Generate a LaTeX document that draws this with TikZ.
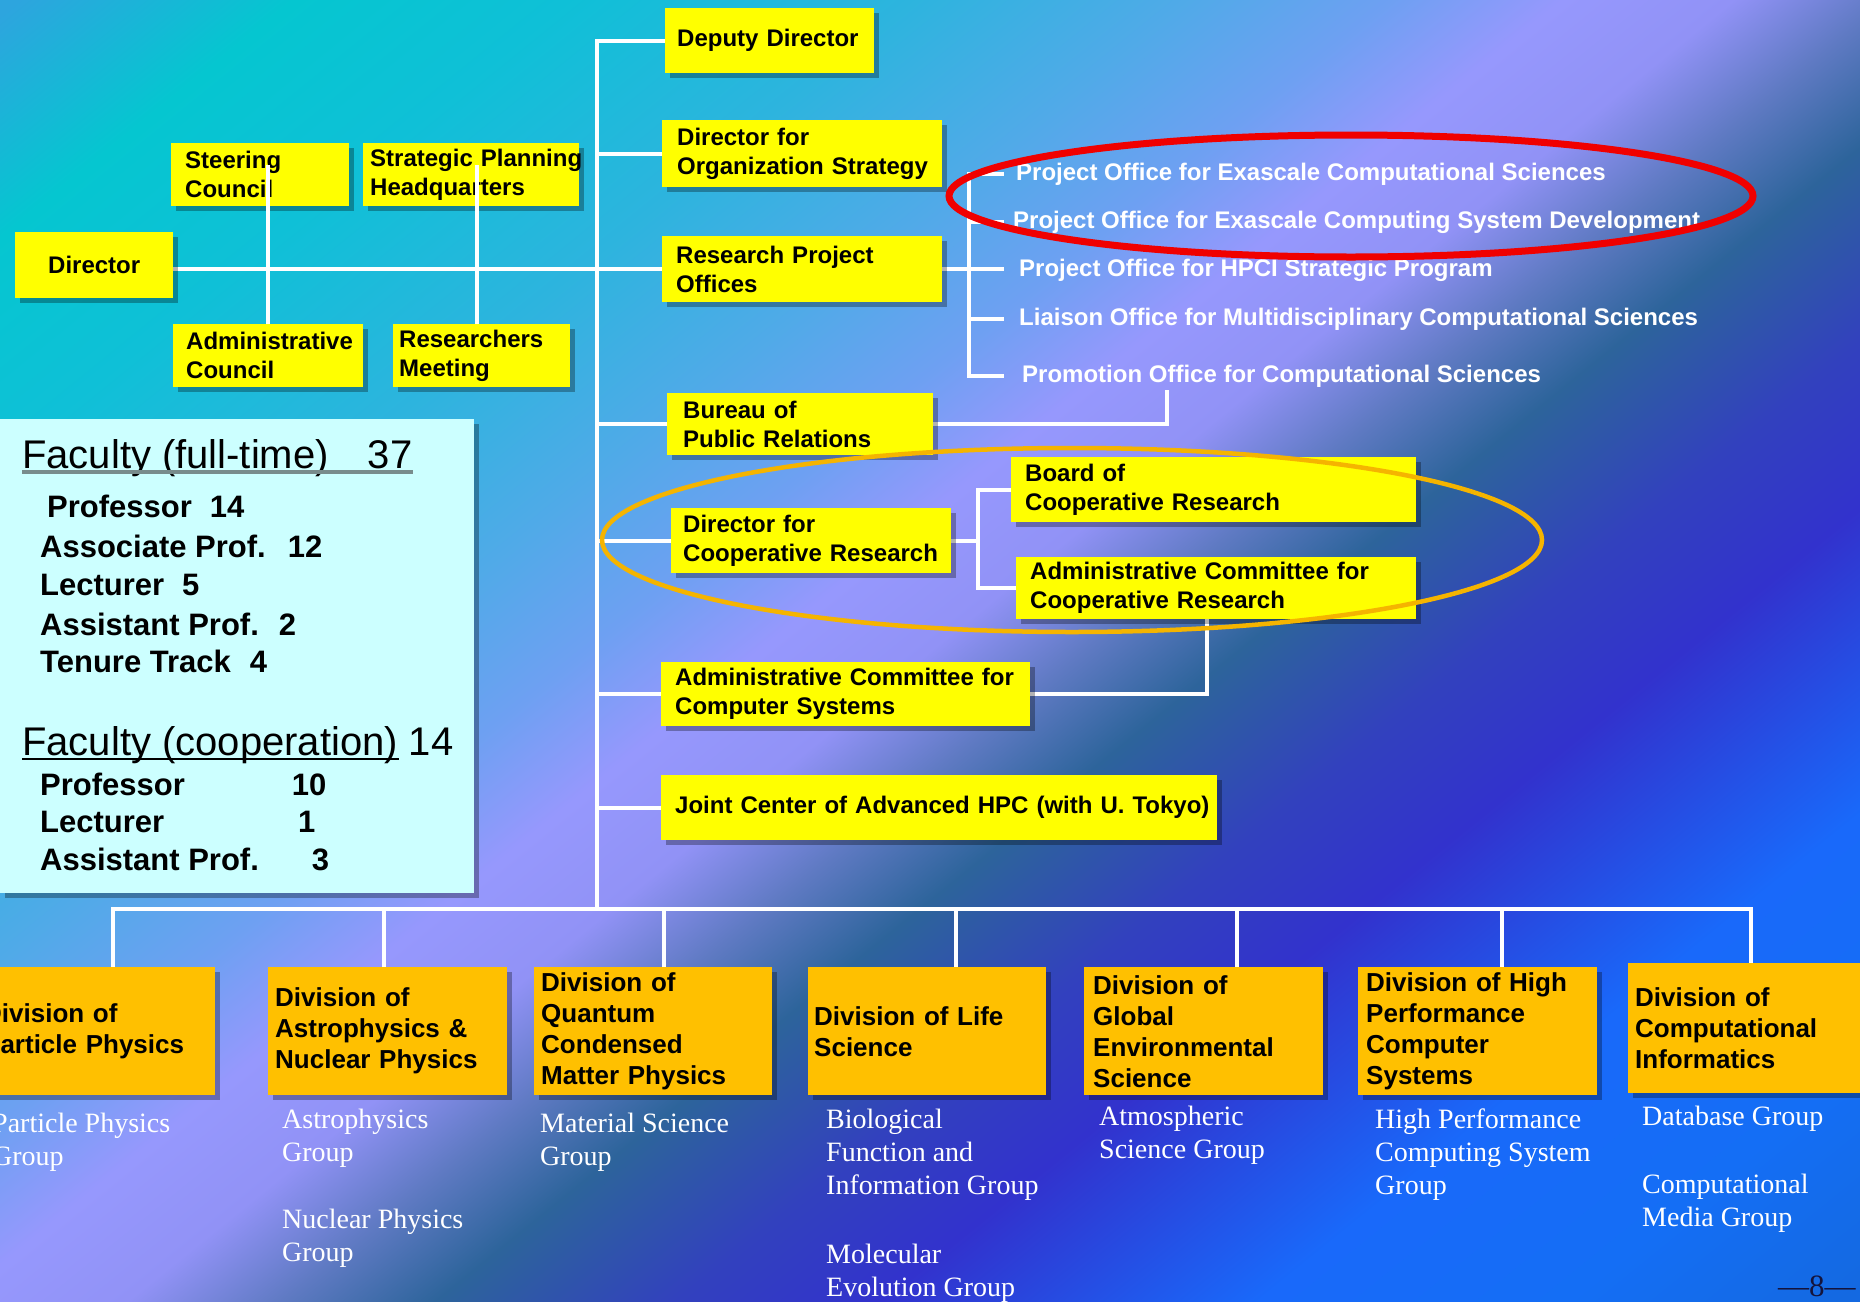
\documentclass[tikz,border=0pt]{standalone}
\usepackage{fontspec}
\setmainfont{Liberation Sans}
\newfontfamily\grpfont{Liberation Serif}
\usetikzlibrary{shadows,calc}
\hyphenpenalty=10000
\exhyphenpenalty=10000
\pgfdeclarelayer{backlayer}
\pgfdeclarelayer{connlayer}
\pgfsetlayers{backlayer,connlayer,main}
\definecolor{boxyellow}{RGB}{255,255,0}
\definecolor{divorange}{RGB}{255,192,0}
\definecolor{facbg}{RGB}{204,255,255}
\definecolor{ringred}{RGB}{240,0,0}
\definecolor{ringorange}{RGB}{245,180,0}
\definecolor{pagenum}{RGB}{20,20,60}
\definecolor{ulgray}{RGB}{120,140,140}
\definecolor{bgc0}{RGB}{45,165,222}
\definecolor{bgc1}{RGB}{5,198,208}
\definecolor{bgc2}{RGB}{15,192,215}
\definecolor{bgc3}{RGB}{45,180,222}
\definecolor{bgc4}{RGB}{80,170,232}
\definecolor{bgc5}{RGB}{110,160,242}
\definecolor{bgc6}{RGB}{150,152,253}
\definecolor{bgc7}{RGB}{145,146,246}
\definecolor{bgc8}{RGB}{95,122,195}
\definecolor{bgc9}{RGB}{45,100,155}
\definecolor{bgc10}{RGB}{50,65,190}
\definecolor{bgc11}{RGB}{50,50,205}
\definecolor{bgc12}{RGB}{25,105,250}
\definecolor{bgc13}{RGB}{20,110,245}
\definecolor{bgc14}{RGB}{20,105,225}
\pgfdeclarehorizontalshading{bgshade}{100bp}{%
  color(0bp)=(bgc0); color(26.34bp)=(bgc0); color(30.13bp)=(bgc1);
  color(33.91bp)=(bgc2); color(38.64bp)=(bgc3); color(42.43bp)=(bgc4);
  color(45.27bp)=(bgc5); color(47.63bp)=(bgc6); color(50.0bp)=(bgc7);
  color(52.13bp)=(bgc8); color(54.26bp)=(bgc9); color(57.57bp)=(bgc10);
  color(60.41bp)=(bgc11); color(65.62bp)=(bgc12); color(69.87bp)=(bgc13);
  color(73.66bp)=(bgc14); color(100bp)=(bgc14)}
\tikzset{
  conn/.style={draw=white, line width=4pt, line cap=rect, line join=miter},
  boxshadow/.style={drop shadow={shadow xshift=5pt, shadow yshift=-5pt, opacity=0.3, fill=black}},
  ybox/.style={fill=boxyellow, anchor=north west, align=left, inner ysep=0pt, boxshadow,
     font=\fontsize{24}{29}\bfseries\selectfont},
  dbox/.style={fill=divorange, anchor=north west, align=left, inner ysep=0pt, boxshadow,
     font=\fontsize{26}{31}\bfseries\selectfont},
  office/.style={anchor=base west, inner sep=0pt, text=white, font=\fontsize{24}{29}\bfseries\selectfont},
  grp/.style={anchor=north west, inner sep=0pt, align=left, text=white, font=\grpfont\fontsize{28}{33}\selectfont},
  fachead/.style={anchor=base west, inner sep=0pt, font=\fontsize{40}{48}\selectfont},
  facitem/.style={anchor=base west, inner sep=0pt, font=\fontsize{31}{37}\bfseries\selectfont},
  ring/.style={line width=7pt}
}
\begin{document}
\begin{tikzpicture}[x=1pt, y=-1pt]
\useasboundingbox (0,0) rectangle (1860,1301);
\clip (0,0) rectangle (1860,1301);
\begin{pgfonlayer}{backlayer}
\fill[bgc7] (0,0) rectangle (1860,1301);
\begin{scope}[transform canvas={rotate around={-51:(930,650.5)}}]
\shade[shading=bgshade] (-210,-489.5) rectangle (2070,1790.5);
\end{scope}
\end{pgfonlayer}

% ---------- named coordinates
\coordinate (trunk) at (597,909);
\coordinate (busy) at (0,909);
\coordinate (bx) at (969,0);
\coordinate (tx) at (1002,0);
\coordinate (cx) at (978,0);
\coordinate (pubtop) at (1167,392);

% ---------- faculty panel
\node[fill=facbg, anchor=north west, minimum width=474pt, minimum height=474pt, inner sep=0pt, boxshadow] (fac) at (0,419) {};
\node[fachead] (fac1) at (22,468) {Faculty (full-time)\hspace{39pt}37};
\node[facitem] (f1) at (47,517) {Professor\hspace{18pt}14};
\node[facitem] (f2) at (40,557) {Associate Prof.\hspace{22pt}12};
\node[facitem] (f3) at (40,595) {Lecturer\hspace{18pt}5};
\node[facitem] (f4) at (40,635) {Assistant Prof.\hspace{20pt}2};
\node[facitem] (f5) at (40,672) {Tenure Track\hspace{19pt}4};
\node[fachead] (fac2) at (22,755) {Faculty (cooperation) 14};
\node[facitem] (f6) at (40,795) {Professor\hspace{107pt}10};
\node[facitem] (f7) at (40,832) {Lecturer\hspace{134pt}1};
\node[facitem] (f8) at (40,870) {Assistant Prof.\hspace{53pt}3};
\draw[ulgray, line width=3.5pt] ([yshift=-4pt]fac1.base west) -- ([yshift=-4pt]fac1.base east);
\draw[black, line width=2.5pt] ([yshift=-4pt]fac2.base west) -- ++(377,0);

% ---------- boxes (upper left)
\node[ybox, minimum width=158pt, minimum height=66pt, inner xsep=12pt, text width=134pt, align=center] (director) at (15,232) {Director};
\node[ybox, minimum width=178pt, minimum height=63pt, inner xsep=14pt, text width=150pt] (steer) at (171,143) {Steering\\Council};
\node[ybox, minimum width=216pt, minimum height=63pt, inner xsep=7pt, text width=202pt] (strat) at (363,143) {\mbox{Strategic Planning}\\Headquarters};
\node[ybox, minimum width=190pt, minimum height=63pt, inner xsep=13pt, text width=164pt] (admcouncil) at (173,324) {Administrative\\Council};
\node[ybox, minimum width=177pt, minimum height=63pt, inner xsep=6pt, text width=165pt] (rmeet) at (393,324) {Researchers\\Meeting};

% ---------- boxes (centre column)
\node[ybox, minimum width=209pt, minimum height=65pt, inner xsep=12pt, text width=185pt] (deputy) at (665,8) {\mbox{Deputy Director}};
\node[ybox, minimum width=280pt, minimum height=67pt, inner xsep=15pt, text width=250pt] (orgstrat) at (662,120) {Director for\\\mbox{Organization Strategy}};
\node[ybox, minimum width=280pt, minimum height=66pt, inner xsep=14pt, text width=252pt] (rpo) at (662,236) {\mbox{Research Project}\\Offices};
\node[ybox, minimum width=266pt, minimum height=62pt, inner xsep=16pt, text width=234pt] (bureau) at (667,393) {Bureau of\\\mbox{Public Relations}};
\node[ybox, minimum width=280pt, minimum height=65pt, inner xsep=12pt, text width=256pt] (dircoop) at (671,508) {Director for\\\mbox{Cooperative Research}};
\node[ybox, minimum width=405pt, minimum height=65pt, inner xsep=14pt, text width=377pt] (board) at (1011,457) {Board of\\\mbox{Cooperative Research}};
\node[ybox, minimum width=400pt, minimum height=62pt, inner xsep=14pt, text width=372pt] (admcoop) at (1016,557) {\mbox{Administrative Committee for}\\\mbox{Cooperative Research}};
\node[ybox, minimum width=369pt, minimum height=64pt, inner xsep=14pt, text width=341pt] (admcomp) at (661,662) {\mbox{Administrative Committee for}\\\mbox{Computer Systems}};
\node[ybox, minimum width=556pt, minimum height=65pt, inner xsep=14pt, text width=528pt] (joint) at (661,775) {\mbox{Joint Center of Advanced HPC (with U. Tokyo)}};

% ---------- project offices
\node[office] (po1) at (1016,180) {Project Office for Exascale Computational Sciences};
\node[office] (po2) at (1013,228) {Project Office for Exascale Computing System Development};
\node[office] (po3) at (1019,276) {Project Office for HPCI Strategic Program};
\node[office] (po4) at (1019,325) {Liaison Office for Multidisciplinary Computational Sciences};
\node[office] (po5) at (1022,382) {Promotion Office for Computational Sciences};

% ---------- divisions
\node[dbox, minimum width=239pt, minimum height=128pt, inner xsep=7pt, text width=225pt] (particle) at (-24,967) {Division of\\Particle Physics};
\node[dbox, minimum width=239pt, minimum height=128pt, inner xsep=7pt, text width=225pt] (astro) at (268,967) {Division of\\Astrophysics \&\\Nuclear Physics};
\node[dbox, minimum width=238pt, minimum height=128pt, inner xsep=7pt, text width=224pt] (quantum) at (534,967) {Division of\\Quantum\\Condensed\\Matter Physics};
\node[dbox, minimum width=238pt, minimum height=128pt, inner xsep=6pt, text width=226pt] (life) at (808,967) {Division of Life\\Science};
\node[dbox, minimum width=239pt, minimum height=128pt, inner xsep=9pt, text width=221pt] (global) at (1084,967) {Division of\\Global\\Environmental\\Science};
\node[dbox, minimum width=239pt, minimum height=128pt, inner xsep=8pt, text width=223pt] (hpc) at (1358,967) {Division of High\\Performance\\Computer\\Systems};
\node[dbox, minimum width=242pt, minimum height=130pt, inner xsep=7pt, text width=228pt] (compinf) at (1628,963) {Division of\\Computational\\Informatics};

% ---------- groups
\node[grp] (gpart) at (-8,1109) {\strut Particle Physics\\Group};
\node[grp] (gastro1) at (282,1105) {\strut Astrophysics\\Group};
\node[grp] (gastro2) at (282,1205) {\strut Nuclear Physics\\Group};
\node[grp] (gquant) at (540,1109) {\strut Material Science\\Group};
\node[grp] (glife1) at (826,1105) {\strut Biological\\Function and\\Information Group};
\node[grp] (glife2) at (826,1240) {\strut Molecular\\Evolution Group};
\node[grp] (gglob) at (1099,1102) {\strut Atmospheric\\Science Group};
\node[grp] (ghpc) at (1375,1105) {\strut High Performance\\Computing System\\Group};
\node[grp] (gcomp1) at (1642,1102) {\strut Database Group};
\node[grp] (gcomp2) at (1642,1170) {\strut Computational\\Media Group};

\node[anchor=base west, inner sep=0pt, text=pagenum, font=\grpfont\fontsize{31}{34}\selectfont] (pnum) at (1778,1296) {—8—};

% ---------- drop points of the divisions
\coordinate (dpart) at ([xshift=17.5pt]particle.north);
\coordinate (dastro) at ([xshift=-3.5pt]astro.north);
\coordinate (dquant) at ([xshift=11pt]quantum.north);
\coordinate (dlife) at ([xshift=29pt]life.north);
\coordinate (dglob) at ([xshift=33.5pt]global.north);
\coordinate (dhpc) at ([xshift=24.5pt]hpc.north);
\coordinate (dcomp) at ([xshift=2pt]compinf.north);

% ---------- connectors (behind boxes)
\begin{pgfonlayer}{connlayer}
\draw[conn] (deputy.west) -| (trunk);
\draw[conn] (orgstrat.west) -- (orgstrat.west -| trunk);
\draw[conn] (director.east |- rpo.west) -- (rpo.west);
\draw[conn] (bureau.west) -- (bureau.west -| trunk);
\draw[conn] (dircoop.west) -- (dircoop.west -| trunk);
\draw[conn] (admcomp.west) -- (admcomp.west -| trunk);
\draw[conn] (joint.west) -- (joint.west -| trunk);
% project office bracket
\draw[conn] (rpo.east) -- (rpo.east -| tx);
\draw[conn] (po1.west -| tx) -| (po5.west -| bx) -- (po5.west -| tx);
\draw[conn] (po2.west -| bx) -- (po2.west -| tx);
\draw[conn] (po4.west -| bx) -- (po4.west -| tx);
\draw[conn] (bureau.east) -| (pubtop);
% cooperative research
\draw[conn] (dircoop.east) -- (dircoop.east -| cx);
\draw[conn] (board.west) -| (admcoop.west -| cx) -- (admcoop.west);
\draw[conn] (admcomp.east) -| ([xshift=-9pt]admcoop.south);
% division bus
\draw[conn, line width=3.5pt] (dpart |- busy) -- (dcomp |- busy);
\draw[conn, line width=3.5pt] (dpart) -- (dpart |- busy);
\draw[conn, line width=3.5pt] (dastro) -- (dastro |- busy);
\draw[conn, line width=3.5pt] (dquant) -- (dquant |- busy);
\draw[conn, line width=3.5pt] (dlife) -- (dlife |- busy);
\draw[conn, line width=3.5pt] (dglob) -- (dglob |- busy);
\draw[conn, line width=3.5pt] (dhpc) -- (dhpc |- busy);
\draw[conn, line width=3.5pt] (dcomp) -- (dcomp |- busy);
\end{pgfonlayer}

% lines that run over the council boxes
\draw[conn, line cap=butt] (admcouncil.north) -- ++(0,-159);
\draw[conn, line cap=butt] ([xshift=-4.5pt]rmeet.north) -- ++(0,-159);

% ---------- highlight rings
\draw[ring, draw=ringred] (1351,196) ellipse [x radius=402, y radius=61];
\draw[ring, draw=ringorange, line width=4.5pt] (1072,540) ellipse [x radius=470, y radius=92];
\end{tikzpicture}
\end{document}
